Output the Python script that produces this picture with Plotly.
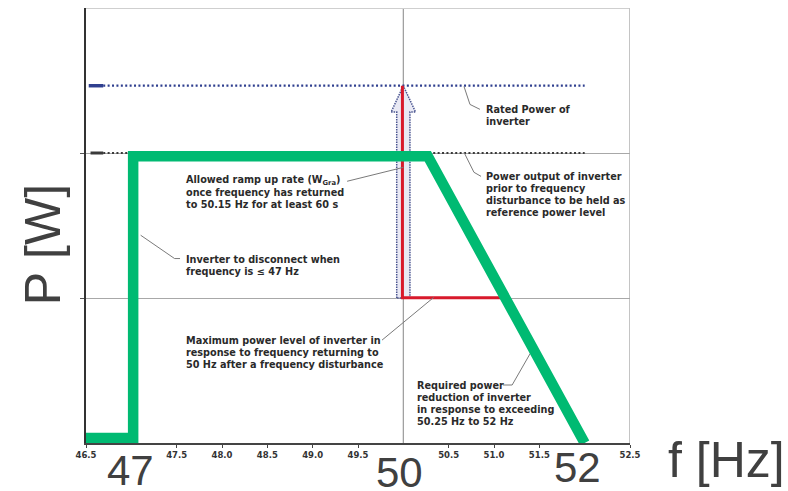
import plotly.graph_objects as go

# ---------------- data ----------------
x_min, x_max = 46.5, 52.5
y_min, y_max = 0.0, 3.0
rated_power = 2.464          # blue dotted level
reference_power = 2.0        # black dotted level
recovery_level = 1.0         # red horizontal level

tick_vals = [46.5, 47.5, 48.0, 48.5, 49.0, 49.5, 50.5, 51.0, 51.5, 52.5]
tick_text = ["46.5", "47.5", "48.0", "48.5", "49.0", "49.5", "50.5", "51.0", "51.5", "52.5"]

# green characteristic curve
green_f = [46.46, 47.02, 47.02, 50.27, 52.0]
green_p = [0.034, 0.034, 1.977, 1.977, 0.0]

# dotted reference lines
dotted_f = [46.69, 52.0]
stub_blue_f = [46.53, 46.69]
stub_black_f = [46.55, 46.69]

# hollow arrow (ramp up)
arrow_f = [49.927, 49.927, 49.865, 50.0, 50.135, 50.073, 50.073, 49.927]
arrow_p = [1.0, 2.282, 2.282, 2.464, 2.282, 2.282, 1.0, 1.0]

# red path
red_f = [49.99, 49.99, 51.09]
red_p = [2.464, 1.001, 1.001]

# leader lines
leaders = [
    ([50.669, 50.735, 50.845], [2.459, 2.335, 2.301]),
    ([50.669, 50.779, 50.857], [2.005, 1.867, 1.839]),
    ([49.38, 50.0], [1.805, 1.901]),
    ([47.103, 47.477, 47.537], [1.433, 1.272, 1.272]),
    ([49.765, 50.334], [0.7095, 1.0037]),
    ([51.10, 51.20, 51.40], [0.4, 0.4, 0.618]),
]

notes = [
    (50.885, 2.299, ["Rated Power of", "inverter"]),
    (50.885, 1.841, ["Power output of inverter", "prior to frequency",
                     "disturbance to be held as", "reference power level"]),
    (47.576, 1.807, ["Allowed ramp up rate (W<sub>Gra</sub>)", "once frequency has returned",
                     "to 50.15 Hz for at least 60 s"]),
    (47.576, 1.265, ["Inverter to disconnect when", "frequency is \u2264 47 Hz"]),
    (47.576, 0.7095, ["Maximum power level of inverter in", "response to frequency returning to",
                      "50 Hz after a frequency disturbance"]),
    (50.124, 0.3995, ["Required power", "reduction of inverter",
                      "in response to exceeding", "50.25 Hz to 52 Hz"]),
]

big_labels = [(46.99, "47", 471), (49.96, "50", 473), (51.92, "52", 468)]

# ---------------- figure ----------------
fig = go.Figure()

fig.add_shape(type="line", x0=50.0, x1=50.0, y0=y_min, y1=y_max, xref="x", yref="y",
              line=dict(color="#9a9a9a", width=1.2), layer="below")
fig.add_shape(type="line", x0=x_min, x1=x_max, y0=y_max, y1=y_max, xref="x", yref="y",
              line=dict(color="#cfcfcf", width=2), layer="below")
fig.add_shape(type="line", x0=x_max, x1=x_max, y0=y_min, y1=y_max, xref="x", yref="y",
              line=dict(color="#c4c4c4", width=2), layer="below")

dot = "2px,2.4px"
fig.add_trace(go.Scatter(x=dotted_f, y=[reference_power] * 2, mode="lines",
                         line=dict(color="#3a3a3a", width=2.2, dash=dot), hoverinfo="skip"))
fig.add_trace(go.Scatter(x=stub_black_f, y=[reference_power] * 2, mode="lines",
                         line=dict(color="#3a3a3a", width=3), hoverinfo="skip"))
fig.add_trace(go.Scatter(x=dotted_f, y=[rated_power] * 2, mode="lines",
                         line=dict(color="#2f3f8f", width=2.2, dash=dot), hoverinfo="skip"))
fig.add_trace(go.Scatter(x=stub_blue_f, y=[rated_power] * 2, mode="lines",
                         line=dict(color="#2f3f8f", width=3.5), hoverinfo="skip"))

fig.add_trace(go.Scatter(x=arrow_f, y=arrow_p, mode="lines", fill="toself",
                         fillcolor="#e9e9f4",
                         line=dict(color="#4a5590", width=1.5, dash="1.5px,1px"),
                         hoverinfo="skip"))
fig.add_trace(go.Scatter(x=red_f, y=red_p, mode="lines",
                         line=dict(color="#d8192b", width=3), hoverinfo="skip"))

for lx, ly in leaders:
    fig.add_trace(go.Scatter(x=lx, y=ly, mode="lines",
                             line=dict(color="#7a7a7a", width=1), hoverinfo="skip"))

fig.add_trace(go.Scatter(x=green_f, y=green_p, mode="lines", cliponaxis=False,
                         line=dict(color="#00BA72", width=10.5), hoverinfo="skip"))

line_step = 12 / 145.17
for nx, ny, lines in notes:
    for i, t in enumerate(lines):
        fig.add_annotation(x=nx, y=ny - i * line_step, xref="x", yref="y", text=t,
                           showarrow=False, xanchor="left", yanchor="middle",
                           font=dict(family="DejaVu Sans", size=9.7, color="#2a2a2a",
                                     weight="bold"))

for bx, bt, py in big_labels:
    fig.add_annotation(x=bx, y=(443 - py) / 435.5, xref="x", yref="paper", text=bt,
                       showarrow=False, xanchor="center", yanchor="middle",
                       font=dict(family="Liberation Sans", size=42, color="#404040"))

fig.add_annotation(text="f [Hz]", showarrow=False, xref="paper", yref="paper",
                   x=(726 - 86) / 544, y=(443 - 460) / 435.5,
                   xanchor="center", yanchor="middle",
                   font=dict(family="Liberation Sans", size=50, color="#404040"))
fig.add_annotation(text="P [W]", textangle=-90, showarrow=False,
                   xref="paper", yref="paper", x=(43 - 86) / 544, y=(443 - 245) / 435.5,
                   xanchor="center", yanchor="middle",
                   font=dict(family="Liberation Sans", size=50, color="#404040"))

fig.update_layout(
    width=788, height=491,
    margin=dict(l=86, r=158, t=7.5, b=48),
    paper_bgcolor="white", plot_bgcolor="white",
    showlegend=False,
    xaxis=dict(range=[x_min, x_max], tickvals=tick_vals, ticktext=tick_text,
               showgrid=False, zeroline=False, showline=True, linecolor="#444444",
               linewidth=1.5, ticks="outside", ticklen=3, tickcolor="#444444",
               tickfont=dict(family="DejaVu Sans", size=8.5, color="#333333", weight="bold"),
               fixedrange=True),
    yaxis=dict(range=[y_min, y_max], tickvals=[1, 2], showticklabels=False,
               showgrid=True, gridcolor="#a8a8a8", gridwidth=1.2, zeroline=False,
               showline=True, linecolor="#333333", linewidth=2,
               ticks="outside", ticklen=4, tickcolor="#555555", fixedrange=True),
)

fig.write_html("out.html", config={"displayModeBar": False})

with open("out.html", "r", encoding="utf-8") as fh:
    html = fh.read()
html = html.replace("<head>", "<head><style>html,body{margin:0;padding:0;overflow:hidden;}</style>", 1)
with open("out.html", "w", encoding="utf-8") as fh:
    fh.write(html)
